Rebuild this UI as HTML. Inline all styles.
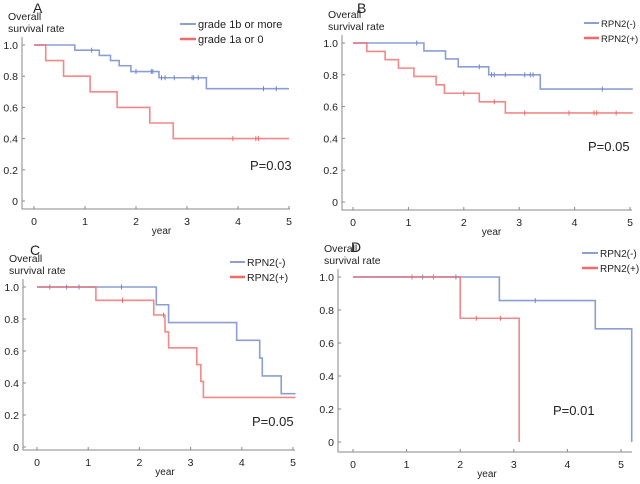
<!DOCTYPE html>
<html><head><meta charset="utf-8"><style>
body{margin:0;background:#fff;}
svg{display:block;font-family:"Liberation Sans",sans-serif;}
text{fill:#222;}
</style></head><body>
<svg id="fig" width="640" height="484"></svg>
<script>
// Panel A
const aBlueT=[0.8,1.28,1.5,1.67,1.9,2.45,3.38], aBlueS=[0.967,0.933,0.9,0.867,0.83,0.79,0.72], aBlueC=[1.13,2.0,2.3,2.33,2.5,2.57,2.75,3.1,3.13,3.22,4.5,4.75];
const aRedT=[0.23,0.58,1.1,1.63,2.27,2.73], aRedS=[0.9,0.8,0.7,0.6,0.5,0.4], aRedC=[3.9,4.35,4.4];
// Panel B
const bBlueT=[1.28,1.67,1.9,2.45,3.38], bBlueS=[0.95,0.9,0.85,0.8,0.71], bBlueC=[1.15,2.28,2.5,2.55,2.75,3.1,3.2,3.25,4.5];
const bRedT=[0.25,0.58,0.82,1.1,1.5,1.65,2.28,2.75], bRedS=[0.947,0.895,0.842,0.79,0.737,0.684,0.63,0.56], bRedC=[2.0,2.55,3.1,3.9,4.35,4.4,4.75];
// Panel C
const cBlueT=[2.33,2.57,3.9,4.35,4.4,4.77], cBlueS=[0.889,0.778,0.667,0.556,0.444,0.333], cBlueC=[0.25,0.58,0.82,1.65];
const cRedT=[1.15,2.28,2.5,2.57,3.12,3.2,3.25], cRedS=[0.917,0.825,0.72,0.62,0.515,0.41,0.31], cRedC=[1.67,2.47];
// Panel D
const dBlueT=[2.73,4.52,5.2], dBlueS=[0.857,0.686,0], dBlueC=[1.3,1.92,3.4];
const dRedT=[2.0,3.1], dRedS=[0.75,0], dRedC=[1.1,1.5,2.3,2.75];
const yTicks=[0,0.2,0.4,0.6,0.8,1.0], yTickLabels=["0","0.2","0.4","0.6","0.8","1.0"];
const xTicks=[0,1,2,3,4,5];

const svg=document.getElementById('fig');
const NS='http://www.w3.org/2000/svg';
function mk(tag,attrs,parent){const e=document.createElementNS(NS,tag);for(const k in attrs)e.setAttribute(k,attrs[k]);(parent||svg).appendChild(e);return e;}
const BLUE='#6f86c9', RED='#f06a6a';

function panel(p){
  const g=mk('g',{});
  
  
  const xs=v=>p.x0+(p.x5-p.x0)*v/5, ys=v=>p.y0+(p.y1-p.y0)*v;
  const t=mk('text',{x:p.lx,y:p.ly,'font-size':14},g);t.textContent=p.id;
  
  const yt=mk('text',{x:p.ax-14,y:p.y1-25,'font-size':10.5},g);
  
  const t1=mk('tspan',{x:p.ax-14},yt);t1.textContent='Overall';
  const t2=mk('tspan',{x:p.ax-14,dy:12},yt);t2.textContent='survival rate';
  const axis=mk('path',{d:`M${p.ax},${p.y1-8}V${p.bx}H${p.xend}`,stroke:'#888','stroke-width':1,fill:'none'},g);
  
  yTicks.forEach((v,i)=>{
    mk('line',{x1:p.ax,x2:p.ax+3,y1:ys(v),y2:ys(v),stroke:'#888'},g);
    const l=mk('text',{x:p.ax-4,y:ys(v)+4,'font-size':10.5,'text-anchor':'end'},g);l.textContent=yTickLabels[i];
    
  });
  xTicks.forEach(v=>{
    mk('line',{x1:xs(v),x2:xs(v),y1:p.bx,y2:p.bx-3,stroke:'#888'},g);
    const l=mk('text',{x:xs(v),y:p.bx+16,'font-size':10.5,'text-anchor':'middle'},g);l.textContent=v;
    
  });
  const xl=mk('text',{x:xs(2.5),y:p.bx+25,'font-size':10,'text-anchor':'middle'},g);xl.textContent='year';
  
  p.series.forEach(s=>{
    let d=`M${xs(0)},${ys(1)}`;let cur=1;
    s.t.forEach((tt,i)=>{d+=`H${xs(tt)}V${ys(s.s[i])}`;cur=s.s[i];});
    if(cur>0)d+=`H${xs(s.end)}`;
    const path=mk('path',{d,stroke:s.c,'stroke-width':1.6,fill:'none','stroke-opacity':0.8},g);
    
    s.cen.forEach(ct=>{
      let v=1;s.t.forEach((tt,i)=>{if(tt<=ct)v=s.s[i];});
      const m=mk('line',{x1:xs(ct),x2:xs(ct),y1:ys(v)-2.5,y2:ys(v)+2.5,stroke:s.c,'stroke-width':1},g);
      
    });
  });
  p.series.forEach((s,i)=>{
    const y=p.legY+i*15;
    mk('line',{x1:p.legX,x2:p.legX+p.legW,y1:y,y2:y,stroke:s.c,'stroke-width':i?2.5:1.6},g);
    const lt=mk('text',{x:p.legX+p.legW+2,y:y+4,'font-size':p.legF},g);lt.textContent=s.label;
    
  });
  const pv=mk('text',{x:p.px,y:p.py,'font-size':13},g);pv.textContent=p.pval;
  
}
panel({id:'A',lx:33,ly:13,ax:22,bx:209,x0:34,x5:289,y0:201,y1:45,xend:290,legX:180,legY:24,legW:16,legF:11,px:250,py:170,pval:'P=0.03',
 series:[{t:aBlueT,s:aBlueS,cen:aBlueC,c:BLUE,end:5,n:'blue',label:'grade 1b or more'},{t:aRedT,s:aRedS,cen:aRedC,c:RED,end:5,n:'red',label:' grade 1a or 0'}]});
panel({id:'B',lx:357,ly:13,ax:342,bx:210,x0:353,x5:630,y0:202,y1:43,xend:632,legX:584,legY:23,legW:15,legF:9.5,px:588,py:151,pval:'P=0.05',
 series:[{t:bBlueT,s:bBlueS,cen:bBlueC,c:BLUE,end:5.05,n:'blue',label:'RPN2(-)'},{t:bRedT,s:bRedS,cen:bRedC,c:RED,end:5.05,n:'red',label:'RPN2(+)'}]});
panel({id:'C',lx:30,ly:255,ax:23,bx:450,x0:37,x5:293,y0:447,y1:287,xend:295,legX:230,legY:262,legW:15,legF:10.5,px:252,py:426,pval:'P=0.05',
 series:[{t:cBlueT,s:cBlueS,cen:cBlueC,c:BLUE,end:5.05,n:'blue',label:'RPN2(-)'},{t:cRedT,s:cRedS,cen:cRedC,c:RED,end:5.05,n:'red',label:'RPN2(+)'}]});
panel({id:'D',lx:351,ly:252,ax:338,bx:452,x0:353,x5:621,y0:442,y1:277,xend:632,legX:582,legY:253,legW:16,legF:10,px:553,py:415,pval:'P=0.01',
 series:[{t:dBlueT,s:dBlueS,cen:dBlueC,c:BLUE,end:5.2,n:'blue',label:'RPN2(-)'},{t:dRedT,s:dRedS,cen:dRedC,c:RED,end:3.1,n:'red',label:'RPN2(+)'}]});
</script>
</body></html>
